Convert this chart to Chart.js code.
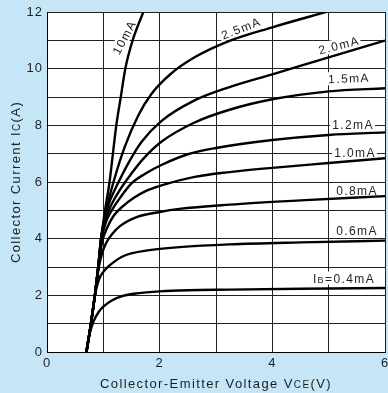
<!DOCTYPE html>
<html>
<head>
<meta charset="utf-8">
<script src="https://cdn.jsdelivr.net/npm/chart.js@4.4.1/dist/chart.umd.min.js"></script>
<style>
  html, body { margin: 0; padding: 0; background: #c6e6f7; }
  #wrap { width: 388px; height: 393px; position: relative; }
</style>
</head>
<body>
<div id="wrap"><canvas id="myChart"></canvas></div>
<script>
// base current curves, [Vce (V), Ic (A)]
const ib10mA = [[0.70,0],[0.78,1],[0.85,2],[0.91,3],[0.96,4],[1.03,5],[1.11,6],[1.17,7],[1.23,8],[1.31,9],[1.39,10],[1.52,11],[1.71,12]];
const ib25mA = [[0.70,0],[0.78,1],[0.85,2],[0.91,3],[0.96,4],[1.04,4.85],[1.10,5.4],[1.18,6.0],[1.38,7.24],[1.62,8.35],[1.85,9.1],[2.2,9.82],[2.62,10.4],[3.24,10.98],[4.0,11.46],[4.88,11.96],[4.95,12]];
const ib20mA = [[0.70,0],[0.78,1],[0.85,2],[0.91,3],[0.96,4],[1.03,4.75],[1.10,5.25],[1.21,5.75],[1.44,6.65],[1.68,7.42],[2.03,8.15],[2.62,8.88],[3.24,9.35],[4,9.8],[5,10.4],[6,10.99]];
const ib15mA = [[0.70,0],[0.78,1],[0.85,2],[0.91,3],[0.96,4],[1.03,4.6],[1.12,5.1],[1.32,5.8],[1.5,6.3],[1.7,6.8],[2.03,7.42],[2.62,8.1],[3.24,8.55],[4,8.92],[5,9.2],[6,9.31]];
const ib12mA = [[0.70,0],[0.78,1],[0.85,2],[0.91,3],[0.97,4],[1.05,4.6],[1.15,5.0],[1.3,5.45],[1.5,5.95],[1.75,6.3],[2.03,6.6],[2.5,6.98],[3.0,7.2],[4,7.48],[5,7.66],[6,7.75]];
const ib10mA_ = [[0.70,0],[0.78,1],[0.85,2],[0.91,3],[0.98,3.9],[1.06,4.35],[1.18,4.8],[1.35,5.15],[1.55,5.45],[1.75,5.68],[2.03,5.88],[2.62,6.18],[3.24,6.35],[4,6.5],[5,6.67],[6,6.84]];
const ib08mA = [[0.70,0],[0.78,1],[0.85,2],[0.92,3],[0.98,3.5],[1.05,3.85],[1.15,4.15],[1.3,4.45],[1.59,4.76],[2.0,4.94],[2.35,5.05],[3.24,5.2],[4.5,5.35],[6,5.5]];
const ib06mA = [[0.70,0],[0.78,1],[0.85,2],[0.92,2.55],[1.03,2.9],[1.15,3.12],[1.35,3.38],[1.76,3.58],[2.35,3.7],[3.24,3.8],[4.5,3.87],[6,3.93]];
const ib04mA = [[0.70,0],[0.76,0.66],[0.83,1.1],[0.92,1.42],[1.0,1.6],[1.15,1.82],[1.35,1.98],[1.6,2.07],[2.0,2.14],[2.5,2.18],[3.24,2.2],[4.5,2.23],[6,2.26]];

const curves = [ib10mA, ib25mA, ib20mA, ib15mA, ib12mA, ib10mA_, ib08mA, ib06mA, ib04mA];
const curveNames = ['10mA', '2.5mA', '2.0mA', '1.5mA', '1.2mA', '1.0mA', '0.8mA', '0.6mA', '=0.4mA'];

const xTickLabels = [0, 2, 4, 6];
const yTickLabels = [0, 2, 4, 6, 8, 10, 12];

// where the curve labels sit (pixels) and their tilt
const labelSpots = [
  [124, 37, -62], [241, 28, -21], [339, 45, -14], [349, 78, -2], [353, 124, 0],
  [355, 152, 0], [357, 190, 0], [357, 230, 0], [344, 278, 0]
];

const FONT = '"Liberation Sans", Arial, sans-serif';
const INK = '#1e1e1e';

function drawParts(ctx, parts, cx, cy, angle, box) {
  ctx.save();
  ctx.translate(cx, cy);
  ctx.rotate(angle * Math.PI / 180);
  ctx.letterSpacing = '1.4px';
  let total = 0;
  const widths = parts.map(([t, s]) => {
    ctx.font = s + 'px ' + FONT;
    const w = ctx.measureText(t).width;
    total += w;
    return w;
  });
  if (box) {
    ctx.fillStyle = '#fff';
    ctx.fillRect(-total / 2 - 2, -box / 2, total + 3, box);
  }
  ctx.fillStyle = INK;
  ctx.textAlign = 'left';
  ctx.textBaseline = 'alphabetic';
  let x = -total / 2;
  parts.forEach(([t, s], i) => {
    ctx.font = s + 'px ' + FONT;
    ctx.fillText(t, x, 4.5);
    x += widths[i];
  });
  ctx.restore();
}

const decor = {
  id: 'decor',
  beforeDraw: (chart) => {
    const {ctx, chartArea} = chart;
    ctx.save();
    ctx.fillStyle = '#c6e6f7';
    ctx.fillRect(0, 0, chart.width, chart.height);
    ctx.fillStyle = '#fff';
    ctx.fillRect(chartArea.left, chartArea.top, chartArea.right - chartArea.left, chartArea.bottom - chartArea.top);
    ctx.restore();
    ctx.letterSpacing = '1px';
  },
  beforeDatasetsDraw: (chart) => {
    const ctx = chart.ctx;
    curveNames.forEach((name, i) => {
      const [x, y, a] = labelSpots[i];
      const parts = name.startsWith('=') ? [['I', 12], ['B', 9], [name, 12]] : [[name, 12]];
      drawParts(ctx, parts, x, y, a, 13);
    });
  },
  afterDraw: (chart) => {
    const ctx = chart.ctx;
    drawParts(ctx, [['Collector-Emitter Voltage V', 13], ['CE', 10], ['(V)', 13]], 216, 383, 0, 0);
    drawParts(ctx, [['Collector Current I', 13], ['C', 10], ['(A)', 13]], 15, 182, -90, 0);
  }
};

const data = {
  datasets: curves.map((pts, i) => ({
    label: curveNames[i],
    data: pts.map(([x, y]) => ({x, y})),
    showLine: true,
    borderColor: '#000',
    borderWidth: 2.4,
    pointRadius: 0,
    cubicInterpolationMode: 'monotone',
    fill: false
  }))
};

new Chart(document.getElementById('myChart'), {
  type: 'scatter',
  data: data,
  options: {
    responsive: true,
    maintainAspectRatio: false,
    animation: false,
    devicePixelRatio: 1,
    layout: { padding: { top: 12, right: 3, left: 0, bottom: 0 } },
    plugins: { legend: { display: false }, tooltip: { enabled: false } },
    scales: {
      x: {
        type: 'linear', min: 0, max: 6,
        grid: { color: '#222', lineWidth: 1, drawTicks: false },
        border: { color: '#000', width: 1 },
        ticks: {
          stepSize: 1, padding: 4, color: INK, maxRotation: 0, autoSkip: false,
          font: { size: 13, family: FONT },
          callback: (v) => xTickLabels.includes(v) ? String(v) : ''
        },
        afterFit: (s) => { s.height = 41; s.paddingLeft = 0; s.paddingRight = 0; }
      },
      y: {
        type: 'linear', min: 0, max: 12,
        grid: { color: '#222', lineWidth: 1, drawTicks: false },
        border: { color: '#000', width: 1 },
        ticks: {
          stepSize: 1, padding: 4, color: INK, autoSkip: false,
          font: { size: 13, family: FONT },
          callback: (v) => yTickLabels.includes(v) ? String(v) : ''
        },
        afterFit: (s) => { s.width = 47; s.paddingTop = 0; s.paddingBottom = 0; }
      }
    }
  },
  plugins: [decor]
});
</script>
</body>
</html>
